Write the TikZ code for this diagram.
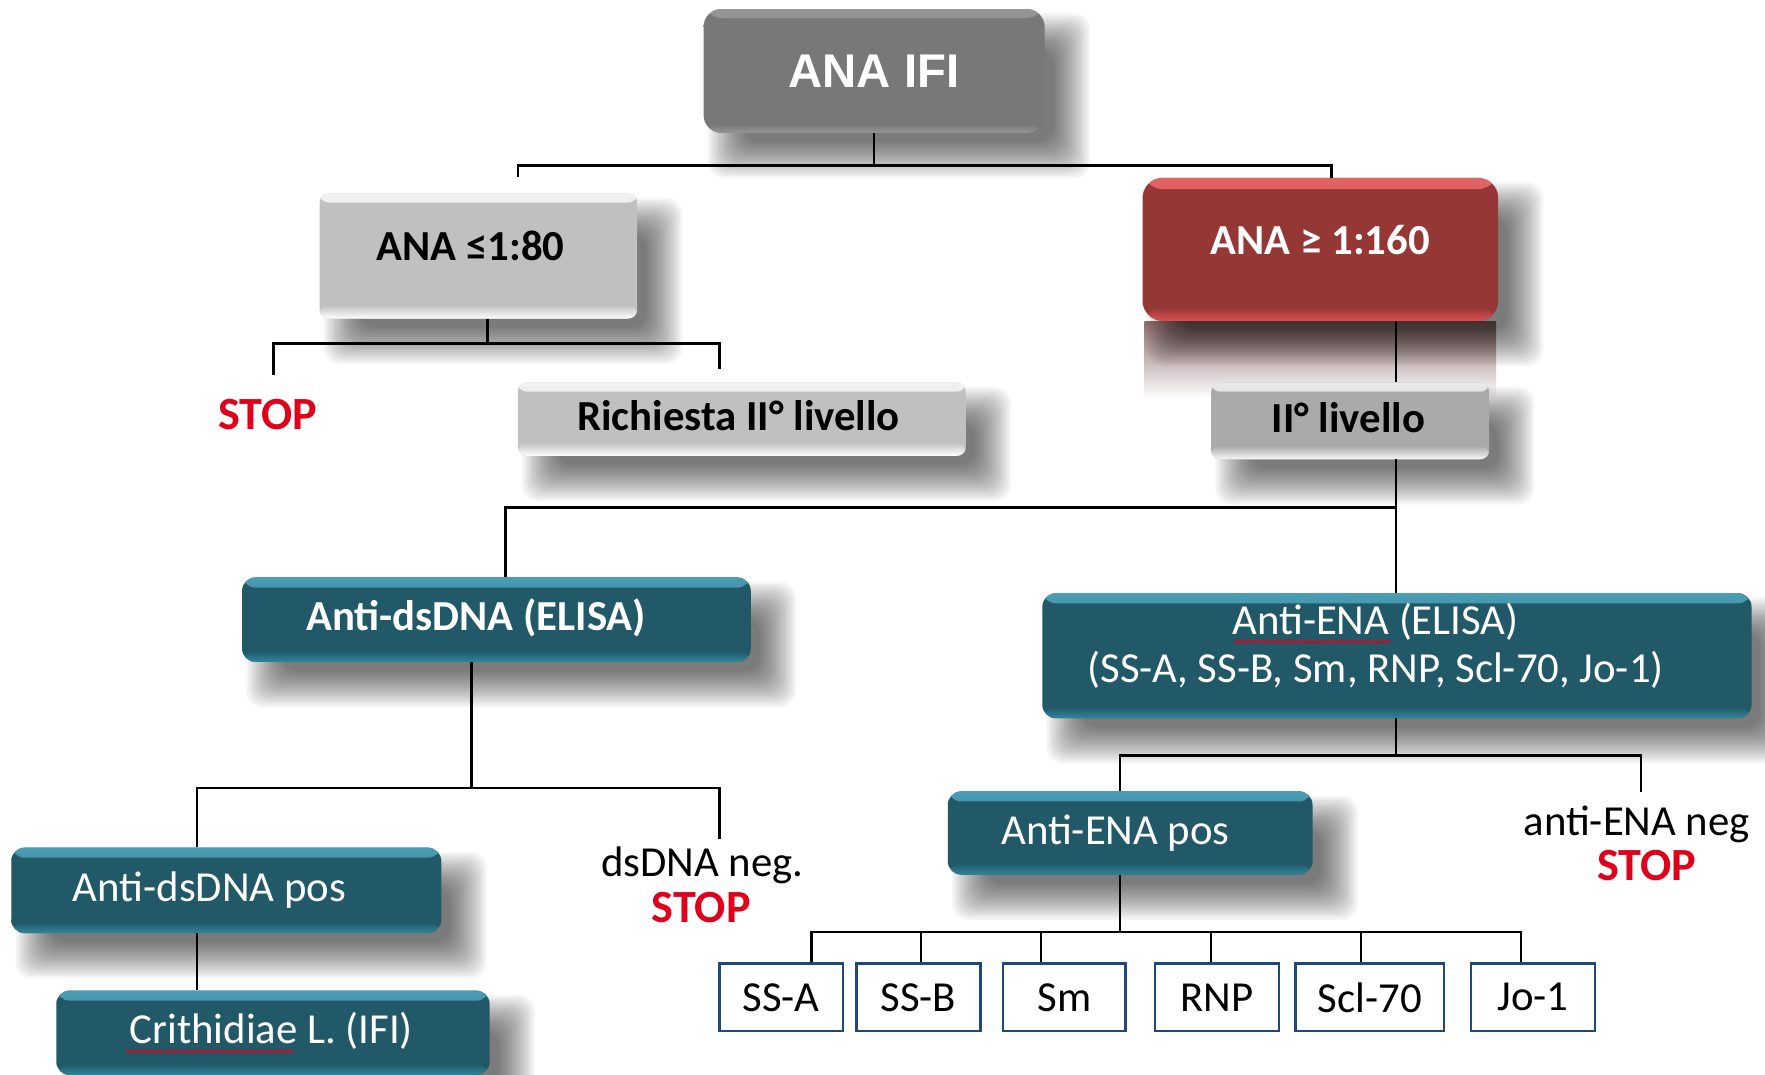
\documentclass[tikz,border=0pt]{standalone}
\usepackage{fontspec}
\setmainfont{Carlito}
\newfontfamily\arialf{Liberation Sans}
\usetikzlibrary{decorations.pathmorphing}
\definecolor{tealmain}{HTML}{215968}
\definecolor{teallight}{HTML}{4A9DB5}
\definecolor{tealedge}{HTML}{31859C}
\definecolor{redmain}{HTML}{953735}
\definecolor{redtop}{HTML}{E46464}
\definecolor{redbot}{HTML}{DC5050}
\definecolor{reflc}{HTML}{8E6C6C}
\definecolor{graymain}{HTML}{787878}
\definecolor{grayedge}{HTML}{959595}
\definecolor{lgray}{HTML}{C0C0C0}
\definecolor{mgray}{HTML}{AAAAAA}
\definecolor{stopred}{HTML}{E0001B}
\definecolor{boxblue}{HTML}{1F497D}
\pgfdeclarelayer{background}
\pgfsetlayers{background,main}
\newcommand\softshadow[1]{%
  \foreach \lo/\hi in {36/8,34/10,32/12,30/14,28/16,26/18,24/20,22/22,20/24,18/26,16/28,14/30,12/32,10/34,8/36,6/38,4/40}{%
    \fill[black, opacity=0.04, rounded corners=14pt]
      ([xshift=\lo pt, yshift=-\hi pt]#1.south west) rectangle
      ([xshift=\hi pt, yshift=-\lo pt]#1.north east);}}
\begin{document}
\begin{tikzpicture}[x=1pt,y=-1pt,
  conn/.style={draw=black, line width=2.2pt},
  bevel/.style n args={5}{fill=#2, path picture={
    \shade[top color=#1, bottom color=#2] (path picture bounding box.north west) rectangle ([yshift=-#4]path picture bounding box.north east);
    \shade[top color=#2, bottom color=#3] ([yshift=#5]path picture bounding box.south west) rectangle (path picture bounding box.south east);}},
  basebox/.style={rectangle, inner sep=0pt, draw=none},
  graybox/.style={basebox, rounded corners=8pt, bevel={white!80!lgray}{lgray}{white}{8pt}{12pt}},
  midgraybox/.style={basebox, rounded corners=8pt, bevel={white!75!mgray}{mgray}{white!90!mgray}{8pt}{12pt}},
  redbox/.style={basebox, rounded corners=18pt, bevel={redtop}{redmain}{redbot}{10pt}{12pt}},
  tealbox/.style={basebox, rounded corners=12pt, bevel={teallight}{tealmain}{tealedge}{9pt}{10pt}},
  topbox/.style={basebox, rounded corners=16pt, bevel={grayedge}{graymain}{grayedge}{8pt}{8pt}},
  smallbox/.style={basebox, draw=boxblue, line width=2.2pt, fill=white, minimum height=60pt, font=\fontsize{38}{44}\selectfont},
  btext/.style={inner sep=0pt, font=\bfseries\fontsize{38}{44}\selectfont},
  wtext/.style={inner sep=0pt, text=white, font=\fontsize{38}{43}\selectfont},
  wbtext/.style={inner sep=0pt, text=white, font=\bfseries\fontsize{38}{44}\selectfont},
  rtext/.style={inner sep=0pt, font=\fontsize{38}{44}\selectfont},
  stoptext/.style={inner sep=0pt, text=stopred, font=\bfseries\fontsize{41}{46}\selectfont},
  squiggle/.style={stopred, line width=1pt, decorate, decoration={snake, amplitude=1.2pt, segment length=4pt}}
]
\useasboundingbox (0,0) rectangle (1568,955);

% boxes and texts
\node[topbox, minimum width=303pt, minimum height=110pt, text=white, font=\arialf\bfseries\fontsize{42}{48}\selectfont] (anaifi) at (776.5,63) {ANA IFI};
\node[graybox, minimum width=282pt, minimum height=111pt] (low) at (425,227.5) {};
\node[btext] (lowt) at ([xshift=-7pt,yshift=9.5pt]low.center) {ANA ≤1:80};
\node[redbox, minimum width=316pt, minimum height=127pt] (high) at (1173,221.5) {};
\node[wbtext] (hight) at ([yshift=8.5pt]high.center) {ANA ≥ 1:160};
\node[stoptext] (stop1) at (238,368) {STOP};
\node[graybox, minimum width=398pt, minimum height=65pt] (rich) at (659,372.5) {};
\node[btext] (richt) at ([xshift=-3pt,yshift=3.5pt]rich.center) {Richiesta II° livello};
\node[midgraybox, minimum width=247pt, minimum height=68pt] (liv2) at (1199.5,374) {};
\node[btext] (liv2t) at ([xshift=-1.5pt,yshift=3pt]liv2.center) {II° livello};
\node[tealbox, minimum width=452pt, minimum height=75pt] (dsdna) at (441,550.5) {};
\node[wbtext] (dsdnat) at ([xshift=-18pt,yshift=1.5pt]dsdna.center) {Anti-dsDNA (ELISA)};
\node[tealbox, minimum width=630pt, minimum height=111pt] (ena) at (1241,582.5) {};
\node[wtext, align=center] (enat) at ([xshift=-19pt,yshift=9pt]ena.center) {Anti-ENA (ELISA)\\(SS-A, SS-B, Sm, RNP, Scl-70, Jo-1)};
\node[tealbox, minimum width=382pt, minimum height=76pt] (dspos) at (201,791) {};
\node[wtext] (dspost) at ([xshift=-15pt]dspos.center) {Anti-dsDNA pos};
\node[tealbox, minimum width=385pt, minimum height=75pt] (crith) at (242.5,917.5) {};
\node[wtext] (critht) at ([xshift=-1.5pt,yshift=1.5pt]crith.center) {Crithidiae L. (IFI)};
\node[rtext] (dsneg) at (624,769) {dsDNA neg.};
\node[stoptext] (stop2) at (623,806) {STOP};
\node[tealbox, minimum width=324pt, minimum height=74pt] (enapos) at (1004,740) {};
\node[wtext] (enapost) at ([xshift=-13pt]enapos.center) {Anti-ENA pos};
\node[rtext] (enaneg) at (1454,732) {anti-ENA neg};
\node[stoptext] (stop3) at (1463,769) {STOP};

\node[smallbox, minimum width=110pt] (ssa) at (694,886) {SS-A};
\node[smallbox, minimum width=110pt] (ssb) at (816,886) {SS-B};
\node[smallbox, minimum width=109pt] (sm) at (945.5,886) {Sm};
\node[smallbox, minimum width=110pt] (rnp) at (1081,886) {RNP};
\node[smallbox, minimum width=132pt] (scl) at (1217,886) {Scl-70};
\node[smallbox, minimum width=110pt] (jo) at (1362,886) {Jo-1};

% spell-check squiggles
\draw[squiggle] (1096,570) -- (1236,570);
\draw[squiggle] (112,934) -- (262,934);

% connectors
\coordinate (bus1) at (0,147);
\coordinate (bus2) at (0,305);
\coordinate (bus3) at (0,451);
\coordinate (bus4) at (0,700);
\coordinate (bus5) at (0,671);
\coordinate (bus6) at (0,828);

\draw[conn] (anaifi.south) -- (anaifi.south |- bus1);
\coordinate (lowin) at ([xshift=35pt,yshift=15pt]low.north);
\coordinate (highin) at ([xshift=10pt]high.north);
\draw[conn] (lowin) |- (highin |- bus1) -- (highin);

\coordinate (lowout) at ([xshift=8pt]low.south);
\draw[conn] (lowout) -- (lowout |- bus2);
\coordinate (stop1in) at ([xshift=5pt,yshift=21pt]stop1.north);
\coordinate (richin) at ([xshift=-20pt,yshift=12pt]rich.north);
\draw[conn] (stop1in) |- (richin |- bus2) -- (richin);

\coordinate (highout) at ([xshift=67pt]high.south);
\draw[conn] (highout) -- (highout |- liv2.north);

\coordinate (liv2out) at ([xshift=40.5pt]liv2.south);
\draw[conn] (liv2out) -- (liv2out |- ena.north);
\coordinate (dsdnain) at ([xshift=8pt]dsdna.north);
\draw[conn] (dsdnain) |- (liv2out |- bus3);

\coordinate (dsdnaout) at ([xshift=-22pt]dsdna.south);
\draw[conn] (dsdnaout) -- (dsdnaout |- bus4);
\coordinate (dsposin) at ([xshift=-26pt]dspos.north);
\coordinate (dsnegin) at ([xshift=15pt,yshift=7pt]dsneg.north);
\draw[conn] (dsposin) |- (dsnegin |- bus4) -- (dsnegin);

\coordinate (dsposout) at ([xshift=-26pt]dspos.south);
\draw[conn] (dsposout) -- (dsposout |- crith.north);

\coordinate (enaout) at ([xshift=-1pt]ena.south);
\draw[conn] (enaout) -- (enaout |- bus5);
\coordinate (enaposin) at ([xshift=-9pt]enapos.north);
\coordinate (enanegin) at ([xshift=4pt,yshift=12pt]enaneg.north);
\draw[conn] (enaposin) |- (enanegin |- bus5) -- (enanegin);

\coordinate (enaposout) at ([xshift=-9pt]enapos.south);
\draw[conn] (enaposout) -- (enaposout |- bus6);
\coordinate (ssain) at ([xshift=27pt]ssa.north);
\coordinate (ssbin) at ([xshift=2pt]ssb.north);
\coordinate (smin) at ([xshift=-20.5pt]sm.north);
\coordinate (rnpin) at ([xshift=-5pt]rnp.north);
\coordinate (sclin) at ([xshift=-8pt]scl.north);
\coordinate (jo1in) at ([xshift=-11pt]jo.north);
\draw[conn] (ssain) |- (jo1in |- bus6) -- (jo1in);
\foreach \c in {ssbin,smin,rnpin,sclin} \draw[conn] (\c) -- (\c |- bus6);

% background: page, reflection, soft shadows
\begin{pgfonlayer}{background}
  \fill[white] (0,0) rectangle (1568,955);
  \shade[top color=reflc, bottom color=white] ([xshift=2pt]high.south west) rectangle ([xshift=-2pt,yshift=-68pt]high.south east);
  \foreach \n in {anaifi,low,high,rich,liv2,dsdna,ena,dspos,crith,enapos}{\softshadow{\n}}
\end{pgfonlayer}
\end{tikzpicture}
\end{document}
